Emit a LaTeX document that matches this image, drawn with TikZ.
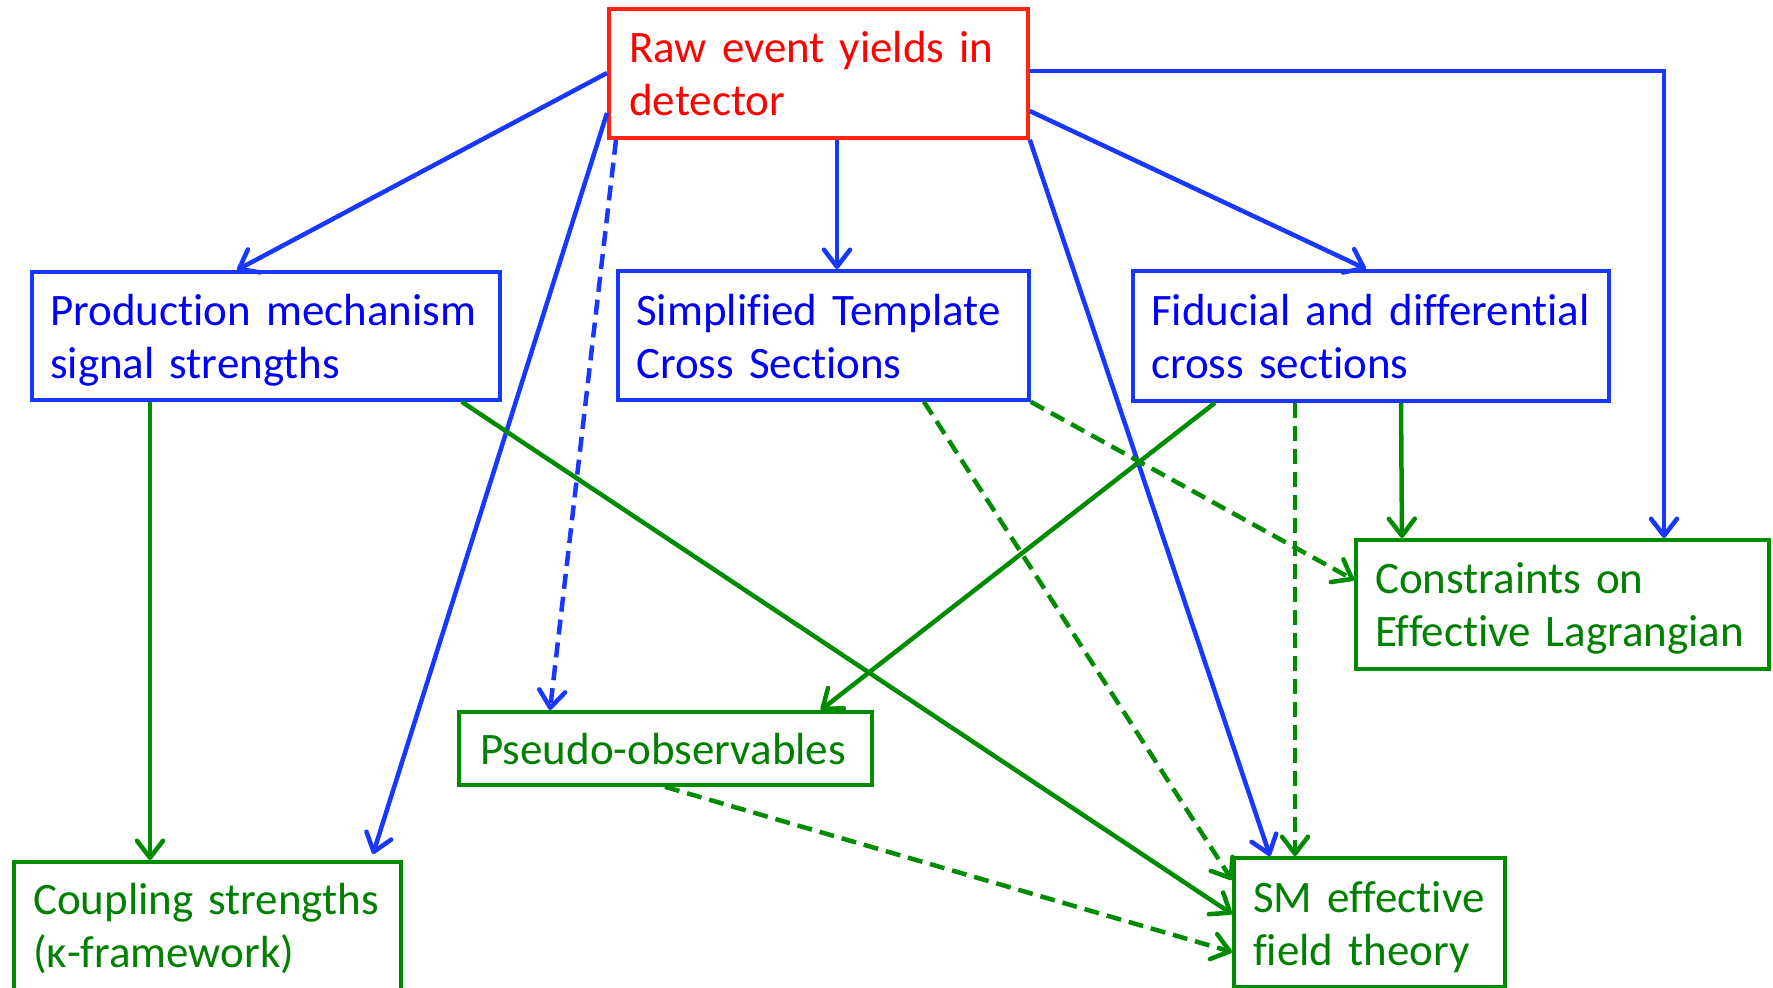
\documentclass[tikz,border=0pt]{standalone}
\usepackage{fontspec}
\setmainfont{Carlito}[Ligatures={NoCommon},WordSpace={0.85}]
\usetikzlibrary{arrows.meta}
\definecolor{rline}{RGB}{255,35,15}
\definecolor{rtext}{RGB}{255,0,0}
\definecolor{bline}{RGB}{24,55,255}
\definecolor{btext}{RGB}{0,0,250}
\definecolor{gline}{RGB}{0,140,0}
\definecolor{gtext}{RGB}{0,128,0}
\begin{document}
\begin{tikzpicture}[x=1pt,y=-1pt,
  box/.style={draw=#1, line width=3.8pt, inner sep=0pt, anchor=north west},
  txt/.style={text=#1, anchor=base west, inner sep=0pt, align=left, font=\fontsize{45}{53}\selectfont},
  tip/.style={-{Straight Barb[length=17pt,width=26pt,round]}},
  bcon/.style={draw=bline, line width=4.5pt, tip},
  gcon/.style={draw=gline, line width=4.5pt, tip},
  dsh/.style={dash pattern=on 15pt off 8pt}
]
\clip (0,0) rectangle (1773,988);
\fill[white] (0,0) rectangle (1773,988);

% boxes
\node[box=rline, minimum width=419, minimum height=129] (raw) at (607,7) {};
\node[box=bline, minimum width=468, minimum height=128] (prod) at (30,270) {};
\node[box=bline, minimum width=411, minimum height=129] (stxs) at (616,269) {};
\node[box=bline, minimum width=476, minimum height=130] (fid) at (1131,269) {};
\node[box=gline, minimum width=413, minimum height=129] (cons) at (1354,538) {};
\node[box=gline, minimum width=387, minimum height=140] (coup) at (12,860) {};
\node[box=gline, minimum width=413, minimum height=73] (pseudo) at (457,710) {};
\node[box=gline, minimum width=271, minimum height=129] (sm) at (1232,856) {};

% texts
\node[txt=rtext, text width=390pt] (rawt) at ([shift={(22,55)}]raw.north west) {Raw event yields in\\detector};
\node[txt=btext, text width=440pt] (prodt) at ([shift={(20,55)}]prod.north west) {Production mechanism\\signal strengths};
\node[txt=btext, text width=385pt] (stxst) at ([shift={(20,56)}]stxs.north west) {Simplified Template\\Cross Sections};
\node[txt=btext, text width=450pt] (fidt) at ([shift={(20,56)}]fid.north west) {Fiducial and differential\\cross sections};
\node[txt=gtext, text width=390pt] (const) at ([shift={(21,55)}]cons.north west) {Constraints on\\Effective Lagrangian};
\node[txt=gtext, text width=360pt] (coupt) at ([shift={(21,54)}]coup.north west) {Coupling strengths\\(κ-framework)};
\node[txt=gtext, text width=385pt] (pseudot) at ([shift={(23,54)}]pseudo.north west) {Pseudo-observables};
\node[txt=gtext, text width=245pt] (smt) at ([shift={(21,56)}]sm.north west) {SM effective\\field theory};

% blue connectors
\draw[bcon] ([yshift=-66]raw.north west) -- ([xshift=207]prod.north west);
\draw[bcon] ([yshift=-106]raw.north west) -- ([xshift=361,yshift=6]coup.north west);
\draw[bcon] ([xshift=230]raw.south west) -- ([xshift=221]stxs.north west);
\draw[bcon] ([yshift=-104]raw.north east) -- ([xshift=235]fid.north west);
\draw[bcon] (raw.south east) -- ([xshift=38]sm.north west);
\draw[bcon] ([yshift=-64]raw.north east) -| ([xshift=310]cons.north west);
\draw[bcon, dsh] ([xshift=9]raw.south west) -- ([xshift=93]pseudo.north west);

% green connectors
\draw[gcon] ([xshift=120]prod.south west) -- ([xshift=138]coup.north west);
\draw[gcon] ([xshift=-40]prod.south east) -- ([yshift=-58]sm.north west);
\draw[gcon] ([xshift=84]fid.south west) -- ([xshift=-53]pseudo.north east);
\draw[gcon] ([xshift=270]fid.south west) -- ([xshift=48]cons.north west);
\draw[gcon, dsh] ([xshift=308]stxs.south west) -- ([yshift=-24]sm.north west);
\draw[gcon, dsh] (stxs.south east) -- ([yshift=-42]cons.north west);
\draw[gcon, dsh] ([xshift=164]fid.south west) -- ([xshift=63]sm.north west);
\draw[gcon, dsh] ([xshift=208]pseudo.south west) -- ([yshift=-96]sm.north west);
\end{tikzpicture}
\end{document}
